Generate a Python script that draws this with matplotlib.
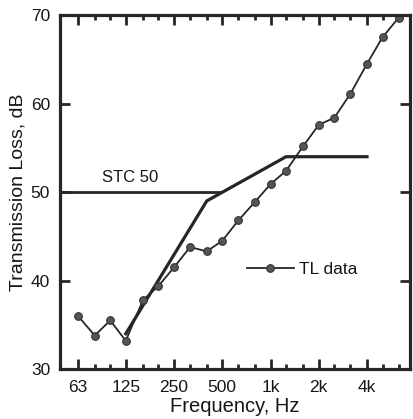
import matplotlib
matplotlib.use("Agg")
import matplotlib.pyplot as plt
from matplotlib.ticker import FixedLocator, NullFormatter

plt.rcParams['font.family'] = ['Liberation Sans', 'DejaVu Sans']

# TL data (1/3-octave bands)
freqs = [63, 80, 100, 125, 160, 200, 250, 315, 400, 500, 630, 800,
         1000, 1250, 1600, 2000, 2500, 3150, 4000, 5000, 6300]
tl = [36.0, 33.8, 35.5, 33.2, 37.8, 39.4, 41.5, 43.8, 43.3, 44.5, 46.8, 48.9,
      50.9, 52.4, 55.2, 57.6, 58.4, 61.1, 64.5, 67.5, 69.7]

# STC 50 contour (corner points)
stc_freqs = [125, 400, 1250, 4000]
stc_vals = [34, 49, 54, 54]
stc_rating = 50
stc_ref_freq = 500

major_ticks = [63, 125, 250, 500, 1000, 2000, 4000]
major_labels = ['63', '125', '250', '500', '1k', '2k', '4k']
minor_ticks = [80, 100, 160, 200, 315, 400, 630, 800, 1250, 1600,
               2500, 3150, 5000, 6300]
y_ticks = [30, 40, 50, 60, 70]

xmin, xmax = 48.5, 7430
ink = '#262626'
txt = '#161616'

fig = plt.figure(figsize=(4.13, 4.19), dpi=100)
ax = fig.add_axes([0.145, 0.119, 0.848, 0.845])
ax.set_xscale('log')
ax.set_xlim(xmin, xmax)
ax.set_ylim(30, 70)

# STC contour and rating line
ax.plot([xmin, stc_ref_freq], [stc_rating, stc_rating], color=ink, lw=2.0,
        solid_capstyle='butt')
ax.plot(stc_freqs, stc_vals, color=ink, lw=2.3, solid_joinstyle='round')

# TL data
ax.plot(freqs, tl, color=ink, lw=1.3, marker='o', markersize=5.5,
        markerfacecolor='#555555', markeredgecolor='#333333', markeredgewidth=0.8,
        label='TL data')

ax.text(0.2, 0.541, 'STC 50', transform=ax.transAxes, ha='center', va='center',
        fontsize=12, color=txt)

ax.legend(loc='center left', bbox_to_anchor=(0.534, 0.282), frameon=False,
          borderpad=0, borderaxespad=0, handlelength=2.7, handletextpad=0.3,
          numpoints=1, fontsize=12.5, labelcolor=txt)

ax.xaxis.set_major_locator(FixedLocator(major_ticks))
ax.xaxis.set_minor_locator(FixedLocator(minor_ticks))
ax.set_xticklabels(major_labels)
ax.xaxis.set_minor_formatter(NullFormatter())
ax.set_yticks(y_ticks)

ax.tick_params(axis='both', which='major', direction='in', length=7, width=2.0,
               top=True, right=True, labelsize=12.5, colors=ink, labelcolor=txt)
ax.tick_params(axis='x', which='major', pad=8)
ax.tick_params(axis='y', which='major', pad=7)
ax.tick_params(axis='x', which='minor', direction='in', length=3.5, width=2.0,
               top=True, colors=ink)

for s in ax.spines.values():
    s.set_linewidth(2.3)
    s.set_color(ink)

ax.set_xlabel('Frequency, Hz', fontsize=14.5, color=txt, labelpad=1)
ax.set_ylabel('Transmission Loss, dB', fontsize=14, color=txt, labelpad=3)

fig.savefig('out.png', dpi=100)
